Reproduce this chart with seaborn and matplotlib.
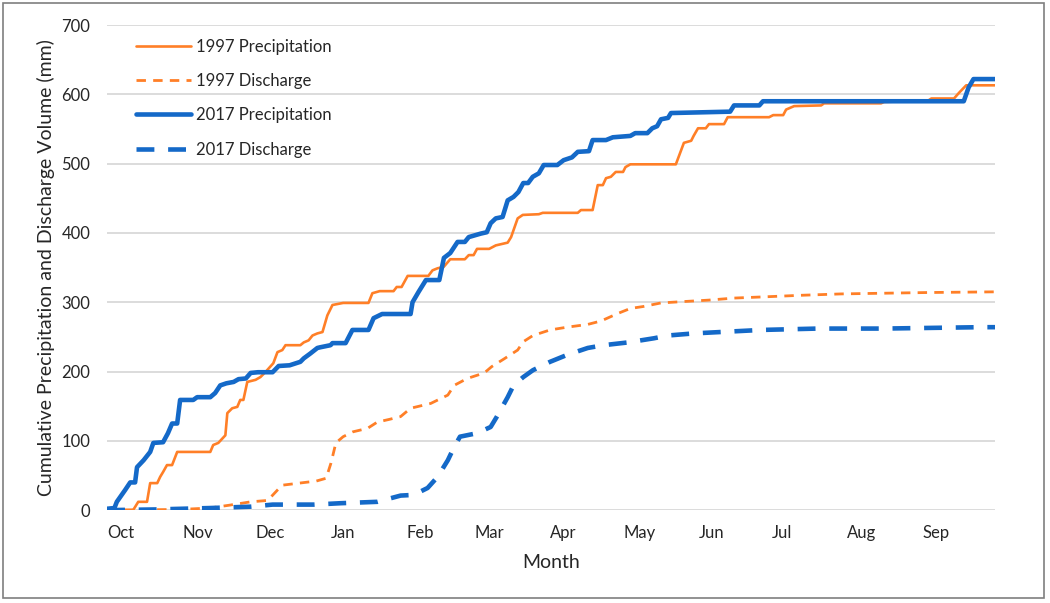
import numpy as np
import pandas as pd
import matplotlib.pyplot as plt
import seaborn as sns
from matplotlib.patches import Rectangle

sns.set_style("white")
plt.rcParams["font.family"] = ["Lato", "DejaVu Sans"]

# day of water year (0 = Oct 1) and cumulative volume (mm)
days_p97 = [0, 10.7, 12.8, 16.4, 17.7, 20.6, 21.8, 23, 24.6, 26.7, 28.8, 42.4, 43.6, 45.7, 48.6, 49.4,
            51.4, 53.5, 54.7, 56, 57.6, 61, 63, 65, 68.3, 70, 72, 73.3, 79.4, 80.8, 82.8, 84.4, 86.4,
            88.5, 90.5, 92.6, 97, 107.4, 109, 112, 117.7, 119, 121, 123.5, 132, 133.7, 135.8, 138.3,
            141, 147, 148.6, 150.6, 152, 157, 159.7, 164.6, 166, 168.7, 170.8, 177.4, 179, 193.4,
            194.7, 199.5, 201.6, 203.7, 205, 207, 209, 212, 213, 215, 233.7, 237, 240, 241, 242.8,
            246, 247.3, 253.5, 255, 272, 273.7, 277.8, 279, 282.3, 293.4, 294.6, 318, 319.3, 337.4,
            338.7, 348, 350, 353, 365]
precip_97 = [0, 0, 12, 12, 39, 39, 48, 55, 65, 65, 84, 84, 94, 97, 108, 140,
             147, 149, 159, 159, 185, 188, 192, 199, 212, 228, 231, 238, 238, 242, 245, 252, 255,
             257, 281, 296, 299, 299, 313, 316, 316, 322, 322, 338, 338, 346, 349, 351,
             362, 362, 368, 368, 377, 377, 382, 386, 394, 421, 426, 427, 429, 429,
             433, 433, 469, 469, 479, 481, 488, 488, 495, 499, 499, 530, 533, 540, 551,
             551, 557, 557, 567, 567, 570, 570, 578, 583, 584, 587, 587, 589, 591,
             594, 594, 602, 613, 613]

days_p17 = [0, 3, 4, 7.4, 9.5, 11.5, 12.3, 15, 17.7, 19, 23, 25, 26.7, 28.8, 30, 35.4, 37, 42.4, 44.4,
            46.5, 49, 52, 54, 57, 59, 62, 68, 70.5, 75, 79.4, 80.8, 83.5, 86.4, 87.6, 91.8, 92.6, 98,
            100.8, 107.4, 109.5, 113, 124.7, 125.5, 128, 131, 136.5, 138.4, 141, 144, 147, 148.6,
            153.5, 156, 157.6, 159.7, 162.5, 164.6, 167, 169, 171, 173, 174.9, 177.4, 179.4, 185,
            187.6, 191, 193.4, 198, 199.5, 205, 207.8, 215, 217, 222, 224, 226, 227.6, 230.5, 231.7,
            256, 257.6, 268, 269.5, 352, 354, 356, 365]
precip_17 = [2, 3, 12, 29, 40, 40, 62, 72, 84, 97, 98, 111, 125, 125, 159, 159, 163, 163, 169,
             180, 183, 185, 189, 190, 198, 199, 199, 208, 209, 214, 219, 226, 234, 235, 238, 241, 241,
             260, 260, 277, 283, 283, 300, 315, 332, 332, 364, 371, 387, 387, 394,
             399, 401, 414, 421, 423, 447, 452, 459, 472, 472, 481, 486, 498, 498,
             505, 509, 517, 518, 534, 534, 538, 540, 544, 544, 551, 554, 564, 566, 573,
             575, 584, 584, 590, 590, 610, 622, 622]

days_q97 = [0, 30, 42, 50, 59, 66, 70, 72, 79, 86, 90, 92, 94, 97, 101, 107, 111, 116, 120.6, 124.7,
            133, 140, 142.6, 148, 155, 158, 163, 168.7, 171, 175, 182, 189, 197.5, 203, 210, 215,
            220.6, 227.6, 237, 247, 257.6, 271.6, 285, 301.6, 319, 337, 365]
disch_97 = [0, 1, 3, 7, 12, 14, 29, 36, 39, 42, 46, 68, 97, 106, 113, 118, 127, 131, 135, 147,
            154, 166, 180, 190, 198, 207, 218, 231, 243, 252, 260, 264, 268, 273, 284, 291,
            294, 299, 301, 303, 306, 308, 310, 312, 313, 314, 315]

days_q17 = [0, 20, 42, 59, 68, 85, 96, 111, 120.6, 126, 131.7, 135.8, 140, 142.6, 145, 152, 157.6,
            160, 164.6, 167, 171, 175, 182, 189, 197.5, 204, 214, 224.7, 230.5, 241, 252, 268.7,
            292, 319, 359, 365]
disch_17 = [0, 1, 3, 5, 8, 8, 10, 12, 21, 22, 32, 48, 72, 91, 106, 111, 120,
            134, 163, 180, 192, 202, 214, 224, 234, 238, 242, 248, 252, 255, 257, 260,
            262, 262, 264, 264]

month_starts = [0, 31, 61, 92, 123, 151, 182, 212, 243, 273, 304, 335]
month_labels = ["Oct", "Nov", "Dec", "Jan", "Feb", "Mar", "Apr", "May", "Jun", "Jul", "Aug", "Sep"]

orange = "#FF7F27"
blue = "#1469C8"

fig = plt.figure(figsize=(10.5, 6.03), dpi=100)
ax = fig.add_axes([0.102, 0.154, 0.846, 0.8045])

sns.lineplot(x=days_p97, y=precip_97, ax=ax, color=orange, linewidth=1.9,
             sort=False, estimator=None, label="1997 Precipitation")
sns.lineplot(x=days_q97, y=disch_97, ax=ax, color=orange, linewidth=2.0,
             linestyle=(0, (3.4, 2.6)), sort=False, estimator=None, label="1997 Discharge")
sns.lineplot(x=days_p17, y=precip_17, ax=ax, color=blue, linewidth=3.3,
             sort=False, estimator=None, label="2017 Precipitation")
sns.lineplot(x=days_q17, y=disch_17, ax=ax, color=blue, linewidth=3.3,
             linestyle=(0, (3.9, 3.0)), sort=False, estimator=None, label="2017 Discharge")

ax.set_xlim(0, 365)
ax.set_ylim(0, 700)
ax.set_yticks(range(0, 701, 100))
ax.set_xticks(month_starts)
ax.set_xticklabels(month_labels, ha="left")
ax.tick_params(axis="both", length=0, labelsize=12, colors="#262626")
ax.tick_params(axis="x", pad=11)
ax.tick_params(axis="y", pad=12)
ax.yaxis.grid(True, color="#D9D9D9", linewidth=1.3)
ax.xaxis.grid(False)
for s in ax.spines.values():
    s.set_visible(False)

ax.set_xlabel("Month", fontsize=14, color="#262626", labelpad=9)
ax.set_ylabel("Cumulative Precipitation and Discharge Volume (mm)", fontsize=14,
              color="#262626", labelpad=5)

leg = ax.legend(loc="upper left", bbox_to_anchor=(0.033, 0.972), frameon=False,
                fontsize=12, handlelength=3.3, handletextpad=0.3, labelspacing=1.1,
                borderpad=0, borderaxespad=0)
for t in leg.get_texts():
    t.set_color("#262626")

fig.patches.append(Rectangle((0.003, 0.008), 0.991, 0.987, transform=fig.transFigure,
                             fill=False, edgecolor="#7F7F7F", linewidth=1.2))

plt.savefig("out.png", dpi=100)
